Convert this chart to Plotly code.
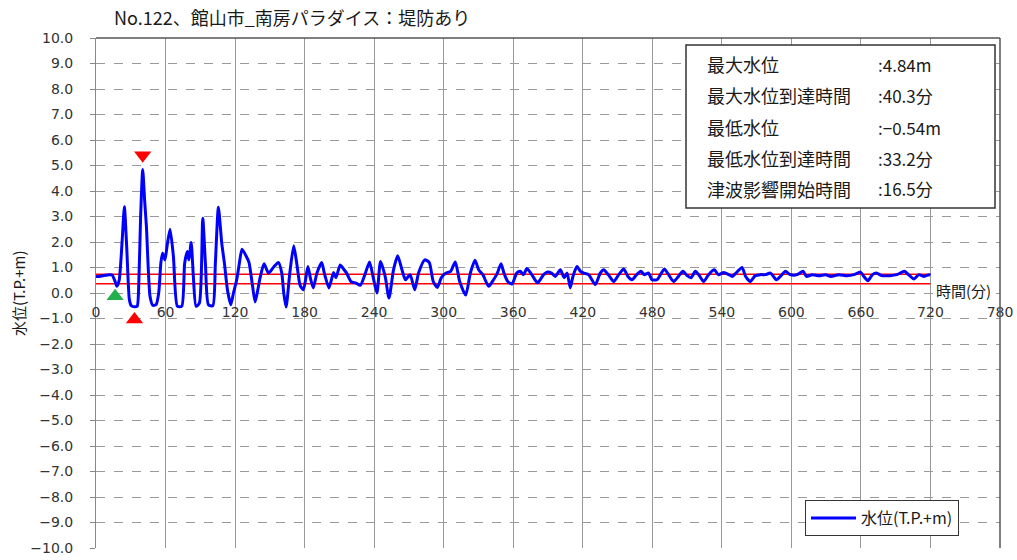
import plotly.graph_objects as go

title_text = "No.122、館山市_南房パラダイス：堤防あり"

time_min = [0, 3, 6, 9, 12, 14, 16.5, 18, 20, 22.5, 24.5, 26.5, 28.8, 30.5, 33.2, 35.5, 37, 38.5, 40.3, 42,
            43.5, 46.6, 48.9, 51.8, 54.1, 56, 57.5, 59.5, 61.5, 63.9, 66.8, 70.2, 74, 76.5, 78.8, 80.2, 82.1, 84,
            86.3, 89.2, 92.1, 94.4, 97, 100.8, 103, 105.6, 108.5, 110.8, 113.4, 116.3, 118.6, 121.4, 123.7, 126,
            129.5, 132, 135, 137.3, 139.5, 141.6, 145, 148.8, 153, 157.4, 160.3, 162, 164, 167.2, 170.6, 173.2,
            176.1, 179, 182.8, 185, 187.5, 190.6, 194.7, 197, 201, 205, 207, 210.7, 213.6, 216, 220, 224.4, 228,
            232, 236, 239, 242.4, 245.5, 249.5, 252.8, 256.7, 260.3, 264, 267, 271, 275, 278.3, 283.6, 287.5,
            291, 294.5, 298, 302, 306, 310, 313.8, 319, 323, 327, 330.2, 334, 338.8, 343, 346, 349.5, 352, 355.3,
            358.9, 363, 366, 368.9, 371.8, 376, 381, 386.2, 389.6, 393, 396.3, 400.6, 404, 406.5, 409.2, 411.5,
            415, 418, 421, 425, 430.8, 435.1, 438, 442, 446.7, 451, 455.3, 459, 462.5, 466.5, 470.2, 473, 476.8,
            479.7, 484, 490.4, 494, 498.4, 502.5, 506.5, 510, 513.4, 517.1, 520, 524.3, 528.5, 533.5, 537, 541.5,
            546, 549, 552.1, 557.4, 560.5, 564.6, 568.8, 573.3, 577.6, 582, 587, 591.1, 594.9, 599, 605, 610.1,
            613, 618, 624, 629.5, 634, 641, 648, 654, 659.6, 662.5, 666, 670, 673.4, 678, 685, 691, 697.6, 701,
            705.7, 710, 714.5, 718.6, 720]
water_level = [0.65, 0.65, 0.68, 0.70, 0.72, 0.70, 0.45, 0.26, 0.5, 2.0, 3.38, 1.8, -0.26, -0.5, -0.54, -0.52, 0.5,
               3.0, 4.84, 3.6, 2.6, -0.13, -0.48, -0.46, 0.0, 1.2, 1.56, 1.3, 1.9, 2.5, 1.43, -0.52, -0.52, 1.17,
               1.63, 1.3, 1.98, 0.65, -0.52, -0.4, 2.93, 1.17, -0.46, -0.5, 1.17, 3.36, 1.95, 1.17, 0.13, -0.46,
               0.0, 0.52, 1.17, 1.72, 1.45, 1.2, 0.3, -0.35, 0.1, 0.6, 1.15, 0.78, 1.0, 1.2, 0.78, 0.0, -0.55,
               0.78, 1.85, 1.17, 0.3, 0.13, 1.04, 0.58, 0.2, 0.78, 1.2, 0.78, 0.2, 0.8, 0.6, 1.1, 0.94, 0.8, 0.45,
               0.39, 0.3, 0.72, 1.22, 0.65, 0.0, 1.24, 0.65, -0.2, 0.91, 1.46, 0.91, 0.52, 0.72, 0.13, 0.78, 1.3,
               1.2, 0.45, 0.22, 0.6, 0.78, 0.85, 1.22, 0.45, -0.08, 0.78, 1.28, 0.91, 0.7, 0.26, 0.52, 0.75, 1.15,
               0.78, 0.45, 0.35, 0.78, 0.85, 0.72, 0.96, 0.72, 0.4, 0.72, 0.82, 0.78, 0.65, 0.91, 0.6, 0.78, 0.2,
               0.65, 1.04, 0.85, 0.78, 0.72, 0.33, 0.78, 0.91, 0.72, 0.45, 0.72, 0.94, 0.65, 0.52, 0.72, 0.85, 0.72,
               0.78, 0.52, 0.52, 0.94, 0.72, 0.45, 0.65, 0.85, 0.68, 0.6, 0.85, 0.72, 0.45, 0.72, 0.91, 0.72, 0.8,
               0.72, 0.65, 0.78, 1.0, 0.65, 0.45, 0.68, 0.72, 0.72, 0.78, 0.52, 0.68, 0.85, 0.72, 0.72, 0.85, 0.65,
               0.72, 0.68, 0.72, 0.65, 0.72, 0.68, 0.72, 0.82, 0.65, 0.48, 0.72, 0.78, 0.68, 0.68, 0.72, 0.85, 0.72,
               0.55, 0.72, 0.65, 0.72, 0.70]

ref_levels = [0.74, 0.36]
ref_span = [0, 720]

start_marker = ([16.5], [-0.13])
max_marker = ([40.3], [5.4])
min_marker = ([33.2], [-1.04])

x_ticks = [0, 60, 120, 180, 240, 300, 360, 420, 480, 540, 600, 660, 720, 780]
y_ticks = [v for v in range(-10, 11)]

stats_labels = ["最大水位", "最大水位到達時間", "最低水位", "最低水位到達時間", "津波影響開始時間"]
stats_values = [":4.84m", ":40.3分", ":−0.54m", ":33.2分", ":16.5分"]

JP = "Noto Sans CJK JP"
NUM = "DejaVu Sans"

L, R, T, B = 96, 1000, 38, 548
W, H = R - L, B - T


def px(xp):
    return (xp - L) / W


def py(yp):
    return (B - yp) / H


fig = go.Figure()
for lv in ref_levels:
    fig.add_trace(go.Scatter(x=ref_span, y=[lv, lv], mode="lines",
                             line=dict(color="#FF0000", width=1.5), showlegend=False, hoverinfo="skip"))
fig.add_trace(go.Scatter(x=time_min, y=water_level, mode="lines", name="水位(T.P.+m)",
                         line=dict(color="#0000FF", width=3, shape="spline", smoothing=0.6)))
fig.add_trace(go.Scatter(x=start_marker[0], y=start_marker[1], mode="markers", showlegend=False,
                         marker=dict(symbol="triangle-up", size=15, color="#22B04B")))
fig.add_trace(go.Scatter(x=max_marker[0], y=max_marker[1], mode="markers", showlegend=False,
                         marker=dict(symbol="triangle-down", size=15, color="#FF0000")))
fig.add_trace(go.Scatter(x=min_marker[0], y=min_marker[1], mode="markers", showlegend=False,
                         marker=dict(symbol="triangle-up", size=15, color="#FF0000")))

fig.update_layout(
    width=1017, height=560,
    margin=dict(l=L, r=1017 - R, t=T, b=560 - B, autoexpand=False),
    paper_bgcolor="white", plot_bgcolor="white",
    font=dict(family=JP, size=14, color="#1a1a1a"),
    xaxis=dict(range=[0, 780], tickvals=x_ticks, ticktext=[str(v) for v in x_ticks],
               anchor="free", position=0.5, showline=False, ticks="", automargin=False,
               showgrid=True, gridcolor="#999999", gridwidth=1, zeroline=False,
               tickfont=dict(family=NUM, size=14, color="#333333"), ticklabelstandoff=9),
    yaxis=dict(range=[-10, 10], tickvals=y_ticks, tickformat=".1f", automargin=False,
               showgrid=True, gridcolor="#9a9a9a", griddash="dash", gridwidth=1, zeroline=False,
               showline=True, linecolor="#888888", linewidth=1, ticks="outside", ticklen=5, tickcolor="#888888",
               tickfont=dict(family=NUM, size=14, color="#333333"), ticklabelstandoff=14),
    legend=dict(x=px(805), y=py(500), xanchor="left", yanchor="top", bgcolor="white",
                bordercolor="#333333", borderwidth=1, font=dict(family=JP, size=16),
                itemwidth=45),
    showlegend=True,
)

# plot-area border (top/right darker)
fig.add_shape(type="line", xref="paper", yref="paper", x0=0, x1=1, y0=1, y1=1,
              line=dict(color="#555555", width=1.5))
fig.add_shape(type="line", xref="paper", yref="paper", x0=1, x1=1, y0=0, y1=1,
              line=dict(color="#555555", width=1.5))

# title
fig.add_annotation(text=title_text, xref="paper", yref="paper", x=px(112), y=py(17),
                   xanchor="left", yanchor="middle", showarrow=False,
                   font=dict(family=JP, size=18, color="#1a1a1a"))

# y axis title
fig.add_annotation(text="水位(T.P.+m)", xref="paper", yref="paper", x=px(18), y=py(293),
                   xanchor="center", yanchor="middle", textangle=-90, showarrow=False,
                   font=dict(family=JP, size=15, color="#1a1a1a"))

# x axis title
fig.add_annotation(text="時間(分)", xref="paper", yref="paper", x=px(934), y=py(290),
                   xanchor="left", yanchor="middle",
                   showarrow=False, bgcolor="white", font=dict(family=JP, size=15, color="#1a1a1a"))

# stats box
bx0, bx1, by0, by1 = 686, 995, 45, 208
fig.add_shape(type="rect", xref="paper", yref="paper",
              x0=px(bx0), x1=px(bx1), y0=py(by1), y1=py(by0),
              fillcolor="white", line=dict(color="#333333", width=1.5), layer="above")
line_y = [64, 95, 127, 158, 189]
for lab, val, yy in zip(stats_labels, stats_values, line_y):
    fig.add_annotation(text=lab, xref="paper", yref="paper", x=px(705), y=py(yy),
                       xanchor="left", yanchor="middle", showarrow=False,
                       font=dict(family=JP, size=18, color="#1a1a1a"))
    fig.add_annotation(text=val, xref="paper", yref="paper", x=px(876), y=py(yy),
                       xanchor="left", yanchor="middle", showarrow=False,
                       font=dict(family=JP, size=17, color="#1a1a1a"))

fig.write_html("out.html", config={"displayModeBar": False},
               post_script="document.body.style.margin='0px';")
